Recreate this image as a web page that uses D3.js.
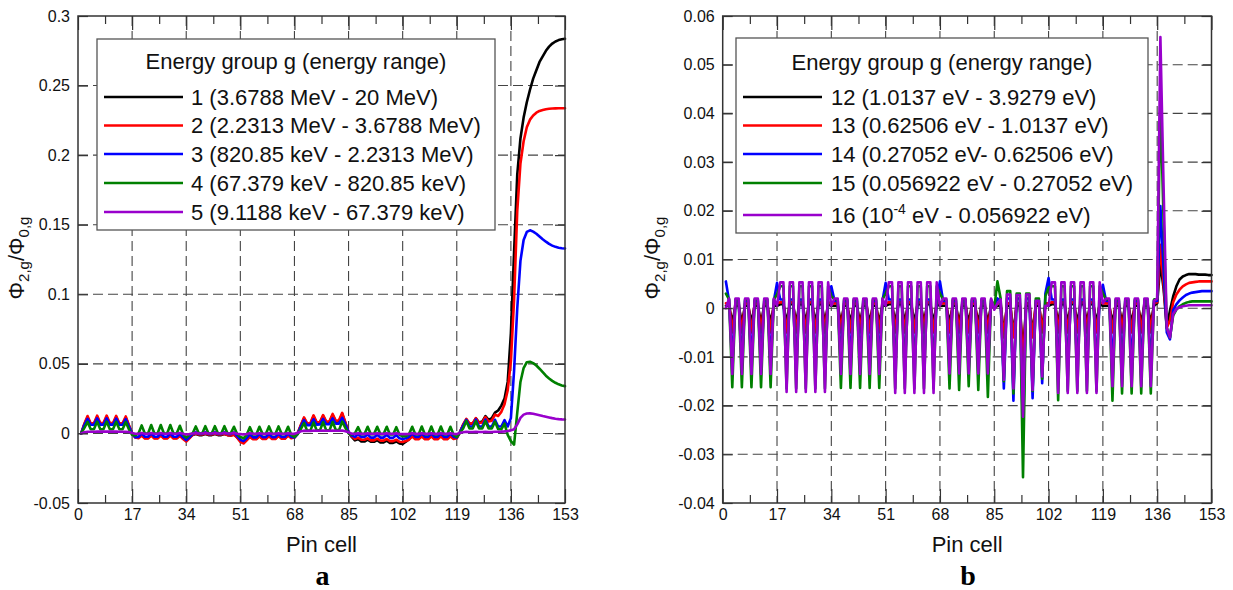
<!DOCTYPE html>
<html><head><meta charset="utf-8">
<script src="https://cdn.jsdelivr.net/npm/d3@7"></script>
<style>body{margin:0;background:#fff}svg{display:block}</style>
</head><body>
<script>
// ---------- DATA ----------
const pinTicks = [0,17,34,51,68,85,102,119,136,153];
const pinMinor = [8.5,25.5,42.5,59.5,76.5,93.5,110.5,127.5,144.5];
const yTicksA = [-0.05,0,0.05,0.1,0.15,0.2,0.25,0.3];
const yTicksB = [-0.04,-0.03,-0.02,-0.01,0,0.01,0.02,0.03,0.04,0.05,0.06];
const legendTitle = "Energy group g (energy range)";
const legendA = ["1 (3.6788 MeV - 20 MeV)","2 (2.2313 MeV - 3.6788 MeV)","3 (820.85 keV - 2.2313 MeV)","4 (67.379 keV - 820.85 keV)","5 (9.1188 keV - 67.379 keV)"];
const legendB = ["12 (1.0137 eV - 3.9279 eV)","13 (0.62506 eV - 1.0137 eV)","14 (0.27052 eV- 0.62506 eV)","15 (0.056922 eV - 0.27052 eV)","16 (10^-4 eV - 0.056922 eV)"];
const colors = ["#000000","#ff0000","#0000ff","#008000","#9900cc"];

// Panel a: pin cells 1..153
const a_g1 = [
0,.0065,.0115,.0066,.0066,.0118,.0068,.0068,.0118,.0068,.0068,.0116,.0066,.0066,.0112,.0055,0,
-.0025,-.003,-.0012,-.0032,-.0032,-.0012,-.0032,-.0032,-.0012,-.0032,-.0032,-.0012,-.0032,-.0032,-.0015,-.0035,-.005,
-.003,-.0012,-.0005,-.0012,-.0012,-.0005,-.0012,-.0012,-.0005,-.0012,-.0012,-.0005,-.0012,-.0014,-.0008,-.0028,-.0055,
-.0065,-.0045,-.002,-.0038,-.0038,-.0017,-.0037,-.0037,-.0016,-.0036,-.0036,-.0015,-.0035,-.0035,-.0012,-.003,-.0025,
0,.0055,.0108,.0066,.0068,.0122,.0074,.0076,.0125,.0079,.0082,.0132,.0084,.0088,.014,.0075,.0005,
-.0025,-.005,-.004,-.0058,-.0058,-.0045,-.006,-.006,-.0048,-.0065,-.0065,-.0052,-.0068,-.0068,-.0058,-.0072,-.0075,
-.006,-.004,-.0018,-.0038,-.0038,-.0017,-.0037,-.0037,-.0016,-.0036,-.0036,-.0016,-.0036,-.0036,-.0015,-.0035,-.003,
.001,.006,.0098,.0068,.007,.0108,.0078,.0085,.0125,.0098,.011,.015,.0165,.02,.025,.037,.072,
.13,.186,.212,.227,.238,.247,.255,.261,.267,.271,.275,.278,.2802,.2817,.2827,.2833,.2836];
const a_g2 = [
0,.007,.0125,.0072,.0072,.0128,.0074,.0074,.0128,.0074,.0074,.0126,.0072,.0072,.0122,.006,0,
-.003,-.0035,-.0015,-.0036,-.0036,-.0015,-.0036,-.0036,-.0015,-.0036,-.0036,-.0015,-.0036,-.0036,-.0018,-.004,-.0058,
-.0035,-.001,0,-.0008,-.0008,0,-.0008,-.0008,0,-.0008,-.0008,-.0002,-.0012,-.0015,-.001,-.003,-.006,
-.0072,-.005,-.0025,-.0042,-.0042,-.002,-.004,-.004,-.002,-.004,-.004,-.0018,-.0038,-.0038,-.0015,-.0035,-.003,
0,.006,.0115,.0072,.0075,.013,.008,.0082,.0132,.0085,.0088,.014,.009,.0095,.0148,.008,.001,
-.002,-.004,-.003,-.0045,-.0045,-.0035,-.005,-.005,-.0038,-.0052,-.0052,-.004,-.0055,-.0055,-.0045,-.006,-.0062,
-.0055,-.0045,-.002,-.0042,-.0042,-.002,-.0042,-.0042,-.002,-.0042,-.0042,-.002,-.0042,-.0042,-.002,-.004,-.0035,
.001,.0065,.0105,.0072,.0072,.011,.0076,.0078,.0118,.0086,.0092,.0135,.0125,.0155,.021,.031,.052,
.096,.16,.194,.21,.22,.2255,.2285,.2305,.2318,.2325,.233,.2333,.2335,.2336,.2337,.2337,.2337];
const a_g3 = [
0,.006,.0105,.0062,.0062,.0108,.0063,.0063,.0108,.0063,.0063,.0106,.0062,.0062,.0102,.005,0,
-.0028,-.0025,0,-.0024,-.0024,0,-.0024,-.0024,0,-.0024,-.0024,0,-.0024,-.0024,-.0003,-.0028,-.0048,
-.0028,-.0005,.001,-.0003,-.0003,.001,-.0003,-.0003,.001,-.0003,-.0003,.001,-.0003,-.0005,.0008,-.002,-.0045,
-.0055,-.0035,-.0005,-.0028,-.0028,-.0003,-.0027,-.0027,-.0003,-.0027,-.0027,-.0002,-.0026,-.0026,0,-.0025,-.003,
-.0005,.005,.0095,.006,.006,.0102,.0063,.0064,.0105,.0066,.0067,.0108,.007,.007,.0112,.0065,.001,
-.0015,-.0025,-.0005,-.0025,-.0025,-.0008,-.003,-.003,-.001,-.003,-.003,-.001,-.0032,-.0032,-.0012,-.0035,-.004,
-.0035,-.0025,0,-.0025,-.0025,0,-.0025,-.0025,0,-.0025,-.0025,0,-.0025,-.0025,0,-.0025,-.003,
.001,.0055,.0098,.005,.005,.01,.005,.005,.01,.005,.005,.0098,.005,.005,.0095,.005,.011,
.045,.09,.124,.139,.1448,.146,.145,.1435,.1415,.1395,.1378,.1362,.135,.1341,.1335,.1331,.1329];
const a_g4 = [
0,.004,.0083,.003,.003,.0085,.003,.003,.0085,.003,.003,.0084,.003,.003,.0082,.003,-.001,
-.0015,0,.0058,0,0,.006,0,0,.006,0,0,.006,0,0,.0055,-.0005,-.003,
-.001,0,.005,0,0,.0052,0,0,.0052,0,0,.0052,0,0,.0048,-.0005,-.0025,
-.0035,-.001,.0045,-.0008,-.0008,.0048,-.0005,-.0005,.005,-.0005,-.0005,.005,-.0005,-.0005,.0048,-.001,-.0025,
-.0005,.003,.0075,.002,.002,.0078,.0022,.0022,.008,.0022,.0022,.0082,.0024,.0024,.0085,.004,0,
-.0008,0,.0045,-.0005,-.0005,.0048,-.0005,-.0005,.0048,-.0005,-.0005,.0048,-.0008,-.0008,.0045,-.001,-.002,
-.002,-.0005,.0048,-.0008,-.0008,.005,-.0008,-.0008,.005,-.0008,-.0008,.005,-.0008,-.0008,.0048,-.001,-.0025,
.0005,.0035,.009,.0035,.0035,.0088,.0035,.0035,.0088,.0035,.0035,.0085,.003,.003,.007,-.001,-.0055,
-.008,.015,.037,.047,.0512,.0515,.0505,.0488,.0465,.044,.0415,.0395,.0378,.0364,.0353,.0345,.034];
const a_g5 = [
0,.0008,.0012,.0012,.0012,.0013,.0013,.0013,.0013,.0013,.0013,.0013,.0012,.0012,.0012,.001,.0003,
-.0002,-.0002,.0003,-.0002,-.0002,.0003,-.0002,-.0002,.0003,-.0002,-.0002,.0003,-.0002,-.0002,.0003,-.0003,-.0008,
-.0005,0,.0004,0,0,.0004,0,0,.0004,0,0,.0004,0,0,.0004,-.0002,-.0005,
-.0008,-.0004,.0002,-.0003,-.0003,.0002,-.0003,-.0003,.0002,-.0003,-.0003,.0002,-.0003,-.0003,.0002,-.0003,-.0003,
.0005,.0015,.002,.0018,.0018,.002,.0019,.0019,.0021,.0019,.0019,.0021,.0019,.0019,.0021,.0015,.0008,
-.0002,-.0003,.0001,-.0003,-.0003,.0001,-.0003,-.0003,.0001,-.0003,-.0003,.0001,-.0003,-.0003,.0001,-.0004,-.0005,
-.0005,-.0003,.0001,-.0003,-.0003,.0001,-.0003,-.0003,.0001,-.0003,-.0003,.0001,-.0003,-.0003,.0001,-.0003,-.0005,
.0005,.0008,.0012,.001,.001,.0012,.001,.001,.0012,.001,.001,.0012,.0012,.0013,.0015,.0018,.0022,
.003,.0065,.0112,.0135,.0143,.0144,.0141,.0136,.0131,.0125,.012,.0115,.011,.0106,.0103,.0101,.01];

// Panel b: pin cells 1..153
const b_g12 = [
.0005,.0005,-.003,.0005,.0005,-.003,.0005,.0005,-.003,.0005,.0005,-.003,.0005,.0005,-.003,.0005,.0005,
.0008,.0008,-.003,.0008,.0008,-.003,.0008,.0008,-.003,.0008,.0008,-.003,.0008,.0008,-.003,.0008,.0005,
.0005,.0005,-.003,.0005,.0005,-.003,.0005,.0005,-.003,.0005,.0005,-.003,.0005,.0005,-.003,.0005,.0005,
.0008,.0008,-.003,.0008,.0008,-.003,.0008,.0008,-.003,.0008,.0008,-.003,.0008,.0008,-.003,.0008,.0005,
.0005,.0005,-.003,.0005,.0005,-.003,.0005,.0005,-.003,.0005,.0005,-.003,.0005,.0005,-.003,.0005,0,
.0005,.0005,-.005,.0005,.0005,-.005,.0005,.0005,-.009,.0005,.0005,-.005,.0005,.0005,-.004,.0005,.0005,
.0008,.0008,-.003,.0008,.0008,-.003,.0008,.0008,-.003,.0008,.0008,-.003,.0008,.0008,-.003,.0008,.0005,
.0005,.0005,-.003,.0005,.0005,-.003,.0005,.0005,-.003,.0005,.0005,-.003,.0005,.0005,-.003,.0005,.001,
.0093,.004,-.0038,-.0005,.0024,.0045,.0059,.0065,.0068,.007,.007,.007,.0069,.0069,.0069,.0068,.0068];
const b_g13 = [
.001,.001,-.005,.001,.001,-.005,.001,.001,-.005,.001,.001,-.005,.001,.001,-.005,.001,.001,
.0012,.0012,-.005,.0012,.0012,-.005,.0012,.0012,-.005,.0012,.0012,-.005,.0012,.0012,-.005,.0012,.001,
.001,.001,-.005,.001,.001,-.005,.001,.001,-.005,.001,.001,-.005,.001,.001,-.005,.001,.001,
.0012,.0012,-.005,.0012,.0012,-.005,.0012,.0012,-.005,.0012,.0012,-.005,.0012,.0012,-.005,.0012,.001,
.001,.001,-.005,.001,.001,-.005,.001,.001,-.005,.001,.001,-.005,.001,.001,-.005,.001,0,
.001,.001,-.006,.001,.001,-.006,.001,.001,-.012,.001,.001,-.006,.001,.001,-.005,.001,.001,
.0012,.0012,-.005,.0012,.0012,-.005,.0012,.0012,-.005,.0012,.0012,-.005,.0012,.0012,-.005,.0012,.001,
.001,.001,-.005,.001,.001,-.005,.001,.001,-.005,.001,.001,-.005,.001,.001,-.005,.001,.0012,
.013,.005,-.004,-.0025,.0012,.0028,.0038,.0045,.0049,.0052,.0053,.0054,.0055,.0055,.0055,.0055,.0055];
const b_g14 = [
.0055,.0015,-.011,.0015,.0015,-.011,.0015,.0015,-.011,.0015,.0015,-.011,.0015,.0015,-.011,.0015,.0052,
.0018,.0018,-.012,.0018,.0018,-.012,.0018,.0018,-.012,.0018,.0018,-.012,.0018,.0018,-.012,.0018,.0045,
.0015,.0015,-.011,.0015,.0015,-.011,.0015,.0015,-.011,.0015,.0015,-.011,.0015,.0015,-.011,.0015,.0052,
.0018,.0018,-.012,.0018,.0018,-.012,.0018,.0018,-.012,.0018,.0018,-.012,.0018,.0018,-.012,.0018,.0055,
.0015,.0015,-.0115,.0015,.0015,-.0115,.0015,.0015,-.0115,.0015,.0015,-.0115,.0015,.0015,-.0115,.0015,0,
.002,.0015,-.0165,.002,.002,-.019,.002,.002,-.026,.002,.002,-.0185,.0015,.0015,-.0154,.003,.0062,
.0018,.0018,-.012,.0018,.0018,-.012,.0018,.0018,-.012,.0018,.0018,-.012,.0018,.0018,-.012,.0018,.0048,
.0015,.0015,-.012,.0015,.0015,-.012,.0015,.0015,-.012,.0015,.0015,-.012,.0015,.0015,-.012,.0015,.0015,
.021,.008,-.005,-.0064,-.0004,.0008,.0016,.0022,.0027,.003,.0032,.0033,.0034,.0035,.0035,.0035,.0035];
const b_g15 = [
.003,.0018,-.0162,.0018,.0018,-.0162,.0018,.0018,-.0162,.0018,.0018,-.0162,.0018,.0018,-.0162,.0018,.0028,
.0045,.0045,-.0165,.0045,.0045,-.0165,.0045,.0045,-.0165,.0045,.0045,-.0165,.0045,.0045,-.0165,.0045,.0025,
.0018,.0018,-.0164,.0018,.0018,-.0164,.0018,.0018,-.0164,.0018,.0018,-.0164,.0018,.0018,-.0164,.0018,.003,
.0045,.0045,-.0165,.0045,.0045,-.0165,.0045,.0045,-.0165,.0045,.0045,-.0165,.0045,.0045,-.0165,.0045,.003,
.0018,.0018,-.0165,.0018,.0018,-.0168,.0018,.0018,-.016,.0018,.0018,-.0168,.0018,.0018,-.0182,.0018,0,
.0055,.002,-.015,.0035,.0035,-.0175,.003,.003,-.0347,.003,.003,-.017,.002,.002,-.0145,.0025,.0042,
.0045,.0045,-.0189,.0045,.0045,-.017,.0045,.0045,-.017,.0045,.0045,-.017,.0045,.0045,-.017,.0045,.003,
.0018,.0018,-.019,.0018,.0018,-.0175,.0018,.0018,-.0175,.0018,.0018,-.0175,.0018,.0018,-.0175,.0018,.002,
.043,.018,-.004,-.006,-.0015,-.0003,.0004,.0008,.0011,.0013,.0014,.0014,.0014,.0014,.0014,.0014,.0014];
const b_g16 = [
0,.002,-.0135,.002,.002,-.0135,.002,.002,-.0135,.002,.002,-.0135,.002,.002,-.0135,.002,.0005,
.0053,.0053,-.0172,.0053,.0053,-.0172,.0053,.0053,-.0172,.0053,.0053,-.0172,.0053,.0053,-.0172,.0053,.0005,
.002,.002,-.0135,.002,.002,-.0135,.002,.002,-.0135,.002,.002,-.0135,.002,.002,-.0135,.002,.0005,
.0053,.0053,-.0174,.0053,.0053,-.0174,.0053,.0053,-.0174,.0053,.0053,-.0174,.0053,.0053,-.0174,.0053,.0005,
.002,.002,-.0134,.002,.002,-.0134,.002,.002,-.0134,.002,.002,-.0134,.002,.002,-.0134,.002,-.0003,
.001,.0018,-.0147,.0028,.0028,-.0165,.0027,.0027,-.0223,.0028,.0028,-.0168,.0015,.0015,-.014,.0005,.0005,
.0053,.0053,-.0174,.0053,.0053,-.0174,.0053,.0053,-.0174,.0053,.0053,-.0174,.0053,.0053,-.0174,.0053,.001,
.002,.002,-.016,.002,.002,-.016,.002,.002,-.016,.002,.002,-.016,.002,.002,-.016,.0015,.002,
.0557,.025,-.004,-.006,-.0012,-.0002,.0002,.0004,.0005,.0006,.0006,.0006,.0006,.0006,.0006,.0006,.0006];

// ---------- DRAW ----------
const FONT = "'Liberation Sans', Arial, Helvetica, sans-serif";
const TOP = 16, BOT = 503;
const svg = d3.select("body").append("svg").attr("width",1233).attr("height",590)
  .style("font-family", FONT);
svg.append("rect").attr("width",1233).attr("height",590).attr("fill","#fff");

function panel(c){
  const x = d3.scaleLinear().domain([0,153]).range([c.x0,c.x1]);
  const y = d3.scaleLinear().domain(c.yDomain).range([BOT,TOP]);
  const g = svg.append("g");
  const gridStyle = s => s.attr("stroke","#444").attr("stroke-width",1.1).attr("stroke-dasharray","10,5");
  g.selectAll(null).data(pinTicks.slice(1,-1)).enter().append("line")
    .attr("x1",d=>x(d)).attr("x2",d=>x(d)).attr("y1",TOP).attr("y2",BOT).call(gridStyle);
  g.selectAll(null).data(c.yTicks.slice(1,-1)).enter().append("line")
    .attr("x1",c.x0).attr("x2",c.x1).attr("y1",d=>y(d)).attr("y2",d=>y(d)).call(gridStyle);

  const line = d3.line().x((d,i)=>x(i+1)).y(d=>y(d)).curve(d3.curveLinear);
  c.series.forEach((s,i)=>{
    g.append("path").datum(s).attr("d",line).attr("fill","none")
      .attr("stroke",colors[i]).attr("stroke-width",2.6)
      .attr("stroke-linejoin","round").attr("stroke-linecap","round");
  });

  // axes (inward ticks)
  const styleAxis = a => { a.select(".domain").remove();
    a.selectAll("line").attr("stroke","#333").attr("stroke-width",1.2);
    a.selectAll("text").attr("fill","#111").style("font-size","16px").style("font-family",FONT); };
  g.append("g").attr("transform",`translate(0,${BOT})`)
    .call(d3.axisBottom(x).tickValues(pinTicks).tickSize(-14).tickPadding(6).tickFormat(d=>String(d))).call(styleAxis);
  g.append("g").attr("transform",`translate(0,${BOT})`)
    .call(d3.axisBottom(x).tickValues(pinMinor).tickSize(-8).tickFormat("")).call(styleAxis);
  g.append("g").attr("transform",`translate(0,${TOP})`)
    .call(d3.axisTop(x).tickValues(pinTicks).tickSize(-14).tickFormat("")).call(styleAxis);
  g.append("g").attr("transform",`translate(0,${TOP})`)
    .call(d3.axisTop(x).tickValues(pinMinor).tickSize(-8).tickFormat("")).call(styleAxis);
  g.append("g").attr("transform",`translate(${c.x0},0)`)
    .call(d3.axisLeft(y).tickValues(c.yTicks).tickSize(-10).tickPadding(8).tickFormat(d=>String(d))).call(styleAxis);
  g.append("g").attr("transform",`translate(${c.x1},0)`)
    .call(d3.axisRight(y).tickValues(c.yTicks).tickSize(-10).tickFormat("")).call(styleAxis);

  g.append("rect").attr("x",c.x0).attr("y",TOP).attr("width",c.x1-c.x0).attr("height",BOT-TOP)
    .attr("fill","none").attr("stroke","#333").attr("stroke-width",1.5);

  // legend
  const L = c.legend;
  const lg = g.append("g");
  lg.append("rect").attr("x",L.x).attr("y",L.y).attr("width",L.w).attr("height",L.h)
    .attr("fill","#fff").attr("stroke","#555").attr("stroke-width",1.3);
  lg.append("text").attr("x",L.x+L.w/2).attr("y",L.titleY).attr("dy","0.35em")
    .attr("text-anchor","middle").style("font-size","22px").attr("fill","#111").text(legendTitle);
  c.labels.forEach((t,i)=>{
    const yy = L.rows[i];
    lg.append("line").attr("x1",L.l0).attr("x2",L.l1).attr("y1",yy).attr("y2",yy)
      .attr("stroke",colors[i]).attr("stroke-width",2.6);
    const tx = lg.append("text").attr("x",L.tx).attr("y",yy).attr("dy","0.35em")
      .style("font-size","22px").attr("fill","#111");
    const parts = t.split(/\^(\S+)/);
    parts.forEach((p,k)=>{
      if(k%2===1){
        tx.append("tspan").attr("dy","-9").style("font-size","14px").text(p);
      } else {
        const ts = tx.append("tspan").text(p);
        if(k>0) ts.attr("dy","9");
      }
    });
  });

  // axis titles
  const yl = g.append("text").attr("transform",`translate(${c.ylabX},258) rotate(-90)`)
    .attr("text-anchor","middle").style("font-size","22px").attr("fill","#111");
  yl.append("tspan").text("Φ");
  yl.append("tspan").attr("dy","5").style("font-size","15px").text("2,g");
  yl.append("tspan").attr("dy","-5").text("/Φ");
  yl.append("tspan").attr("dy","5").style("font-size","15px").text("0,g");

  const cx = (c.x0+c.x1)/2;
  g.append("text").attr("x",cx).attr("y",552).attr("text-anchor","middle")
    .style("font-size","22px").attr("fill","#111").text("Pin cell");
  g.append("text").attr("x",cx+1).attr("y",585).attr("text-anchor","middle")
    .style("font-family","'Liberation Serif','Times New Roman',serif").style("font-weight","bold")
    .style("font-size","28px").attr("fill","#000").text(c.tag);
}

panel({x0:78, x1:565, yDomain:[-0.05,0.3], yTicks:yTicksA,
  series:[a_g1,a_g2,a_g3,a_g4,a_g5], labels:legendA, ylabX:24, tag:"a",
  legend:{x:97,y:39,w:398,h:191,titleY:61,rows:[97,125.5,154,183,212],l0:104,l1:183,tx:191}});
panel({x0:722.7, x1:1211.5, yDomain:[-0.04,0.06], yTicks:yTicksB,
  series:[b_g12,b_g13,b_g14,b_g15,b_g16], labels:legendB, ylabX:660, tag:"b",
  legend:{x:736,y:38,w:412,h:195,titleY:62,rows:[97,125.5,154,183,215],l0:743,l1:822,tx:831}});
</script>
</body></html>
